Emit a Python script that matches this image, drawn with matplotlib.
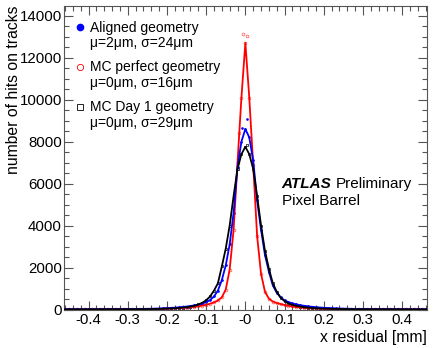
import numpy as np
import matplotlib
matplotlib.use('Agg')
import matplotlib.pyplot as plt
from matplotlib.ticker import FixedLocator, FixedFormatter, MultipleLocator

plt.rcParams['font.family'] = ['Liberation Sans', 'DejaVu Sans']

# bin centres, 0.01 mm wide
x_bins = np.round(np.arange(-47, 48) * 0.01, 2)

# aligned geometry (data)
aligned = [6, 6, 7, 7, 7, 8, 8, 9, 9, 10, 10, 11, 12, 13, 14, 15, 16,
           18, 20, 22, 25, 28, 32, 36, 41, 47, 55,
           65, 75, 88, 100, 120, 140, 165, 195, 235, 285,
           350, 450, 620, 900, 1400, 2100, 3100, 4600, 6800, 8000,
           8600,
           8200, 7100, 5200, 3800, 2600, 1800, 1150, 800, 580, 430,
           350, 290, 245, 205, 175, 150, 128, 110, 95, 82,
           72, 62, 54, 47, 41, 36, 32, 28, 25, 22,
           20, 18, 16, 15, 13, 12, 11, 10, 10, 9, 8, 8, 7, 7, 7, 6, 6]

# MC perfect geometry
mc_perfect = [3, 3, 3, 3, 4, 4, 4, 4, 5, 5, 5, 6, 6, 7, 7, 8, 9,
              10, 11, 12, 14, 16, 18, 21, 24, 28, 33,
              40, 48, 57, 68, 80, 95, 110, 130, 155, 185,
              225, 275, 340, 430, 580, 950, 1900, 3800, 7000, 10100,
              12700,
              10100, 6900, 3500, 1700, 850, 520, 380, 310, 260, 215,
              175, 145, 120, 100, 85, 72, 62, 53, 45, 38,
              32, 27, 23, 20, 17, 15, 13, 12, 11, 10,
              9, 8, 7, 7, 6, 6, 5, 5, 5, 4, 4, 4, 4, 3, 3, 3, 3]

# MC day 1 geometry
mc_day1 = [5, 5, 5, 6, 6, 6, 7, 7, 7, 8, 8, 9, 9, 10, 10, 11, 12,
           13, 14, 15, 17, 19, 21, 24, 27, 31, 36,
           42, 50, 60, 72, 90, 110, 140, 175, 240, 320,
           440, 620, 900, 1250, 2050, 2900, 4000, 5400, 6700, 7400,
           7750,
           7400, 6700, 5400, 4000, 2800, 1950, 1250, 850, 560, 400,
           290, 220, 175, 140, 110, 90, 72, 60, 50, 42,
           36, 31, 27, 24, 21, 19, 17, 15, 14, 13,
           12, 11, 10, 10, 9, 9, 8, 8, 7, 7, 7, 6, 6, 6, 5, 5, 5]

# extra points near the peak (finer binning)
aligned_pk_x = [-0.0075, 0.0037]
aligned_pk_y = [8640, 9070]
perfect_pk_x = [-0.017, -0.0056, 0.0046]
perfect_pk_y = [8420, 13130, 13050]
day1_pk_x = [0.003]
day1_pk_y = [7850]

legend_labels = ['Aligned geometry\n\u03bc=2\u03bcm, \u03c3=24\u03bcm',
                 'MC perfect geometry\n\u03bc=0\u03bcm, \u03c3=16\u03bcm',
                 'MC Day 1 geometry\n\u03bc=0\u03bcm, \u03c3=29\u03bcm']

x_ticks = [-0.4, -0.3, -0.2, -0.1, 0.0, 0.1, 0.2, 0.3, 0.4]
x_tick_labels = ['-0.4', '-0.3', '-0.2', '-0.1', '-0', '0.1', '0.2', '0.3', '0.4']
y_ticks = [0, 2000, 4000, 6000, 8000, 10000, 12000, 14000]

fig = plt.figure(figsize=(4.36, 3.48), dpi=100)
ax = fig.add_axes([64 / 436, 1 - 309.5 / 348, (426.7 - 64) / 436, (309.5 - 6) / 348])

# small markers sit under the curves
ax.plot(x_bins, mc_perfect, ls='none', marker='o', ms=2.0, mfc='none', mec='#ff5050', mew=0.5, zorder=1)
ax.plot(perfect_pk_x, perfect_pk_y, ls='none', marker='o', ms=2.0, mfc='none', mec='#ff5050', mew=0.5, zorder=1)
ax.plot(x_bins, mc_day1, ls='none', marker='s', ms=1.8, mfc='none', mec='black', mew=0.5, zorder=1)
ax.plot(day1_pk_x, day1_pk_y, ls='none', marker='s', ms=1.8, mfc='none', mec='black', mew=0.5, zorder=1)
ax.plot(x_bins, aligned, ls='none', marker='o', ms=1.9, color='blue', mew=0, zorder=1.5)
ax.plot(aligned_pk_x, aligned_pk_y, ls='none', marker='o', ms=1.9, color='blue', mew=0, zorder=1.5)

ax.plot(x_bins, mc_perfect, color='red', lw=1.3, zorder=2)
ax.plot(x_bins, aligned, color='blue', lw=1.3, zorder=3)
ax.plot(x_bins, mc_day1, color='black', lw=1.3, zorder=4)

ax.set_xlim(-0.4625, 0.4625)
ax.set_ylim(0, 14460)

ax.xaxis.set_major_locator(FixedLocator(x_ticks))
ax.xaxis.set_major_formatter(FixedFormatter(x_tick_labels))
ax.xaxis.set_minor_locator(MultipleLocator(0.02))
ax.yaxis.set_major_locator(FixedLocator(y_ticks))
ax.yaxis.set_minor_locator(MultipleLocator(500))

frame_col = '#555555'
for s in ax.spines.values():
    s.set_color(frame_col)
    s.set_linewidth(0.8)
ax.tick_params(which='both', direction='in', top=True, right=True, color=frame_col, width=0.8,
               labelsize=10.8, labelcolor='black')
ax.tick_params(which='major', length=6.5)
ax.tick_params(which='minor', length=3.5)
ax.tick_params(axis='x', pad=2.5)
ax.tick_params(axis='y', pad=1.5)

ax.set_xlabel('x residual [mm]', fontsize=11.3, loc='right')
ax.xaxis.set_label_coords(1.0, -0.068)
ax.set_ylabel('number of hits on tracks', fontsize=11.3, loc='top')
ax.yaxis.set_label_coords(-0.118, 1.0)

# legend
h_al = plt.Line2D([], [], ls='none', marker='o', ms=4.5, color='blue')
h_pf = plt.Line2D([], [], ls='none', marker='o', ms=4.5, mfc='none', mec='red', mew=0.6)
h_d1 = plt.Line2D([], [], ls='none', marker='s', ms=4.3, mfc='none', mec='black', mew=0.6)
leg = ax.legend([h_al, h_pf, h_d1], legend_labels, loc='upper left', bbox_to_anchor=(0.0325, 0.952),
                frameon=False, fontsize=10, handlelength=0.6, handletextpad=0.4,
                borderaxespad=0, borderpad=0, labelspacing=0.72)
for t in leg.get_texts():
    t.set_linespacing(1.17)
for h in leg.legend_handles:
    h.set_ydata(np.asarray(h.get_ydata()) + 6.3)

t_atlas = ax.text(0.600, 0.4135, 'ATLAS', transform=ax.transAxes, fontsize=11,
                  fontweight='bold', fontstyle='italic', va='center', ha='left')
ax.annotate('Preliminary', xy=(1, 0), xycoords=t_atlas, xytext=(3, 0), textcoords='offset points',
            fontsize=11, va='bottom', ha='left')
ax.text(0.600, 0.356, 'Pixel Barrel', transform=ax.transAxes, fontsize=11, va='center', ha='left')

fig.savefig('out.png', dpi=100)
